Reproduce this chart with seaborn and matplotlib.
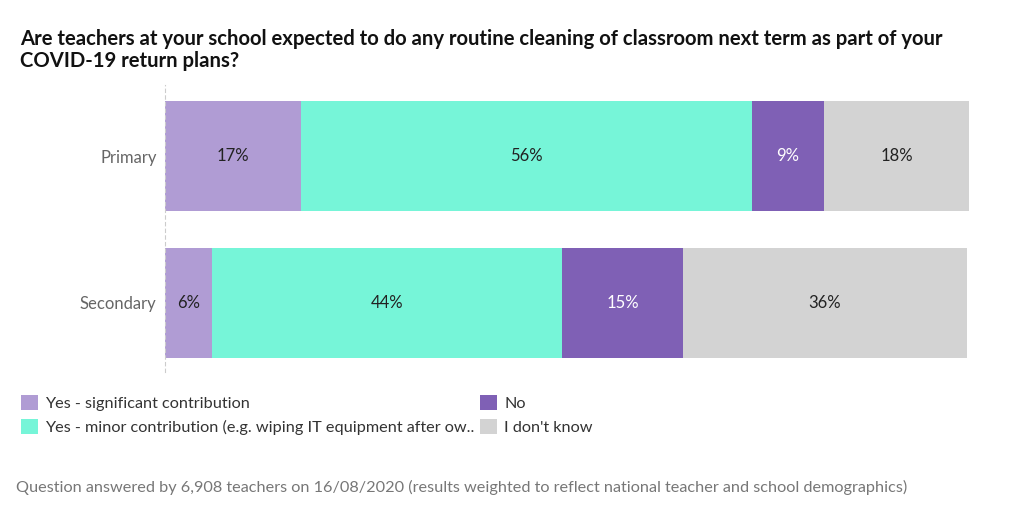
import seaborn as sns
import pandas as pd
import matplotlib.pyplot as plt
from matplotlib.patches import Patch

# survey answers, % of teachers (bar widths)
phases = ["Primary", "Secondary"]
answers = [
    "Yes - significant contribution",
    "Yes - minor contribution (e.g. wiping IT equipment after ow..",
    "No",
    "I don't know",
]
primary = [16.9, 56.1, 9.0, 18.0]
secondary = [5.9, 43.5, 15.0, 35.4]
primary_labels = ["17%", "56%", "9%", "18%"]
secondary_labels = ["6%", "44%", "15%", "36%"]

colors = ["#B09CD4", "#76F5D8", "#7F60B5", "#D3D3D3"]
text_colors = ["#222222", "#222222", "white", "#222222"]

sns.set_style("white")
plt.rcParams["font.family"] = ["Lato", "DejaVu Sans"]

rows = []
for phase, vals in zip(phases, [primary, secondary]):
    total = 0
    for answer, v in zip(answers, vals):
        rows.append({"phase": phase, "answer": answer, "value": v, "left": total})
        total += v
df = pd.DataFrame(rows)
df["end"] = df["left"] + df["value"]

fig = plt.figure(figsize=(10.24, 5.12), dpi=100)
ax = fig.add_axes([165 / 1024, 1 - 372 / 512, (969 - 165) / 1024, 287 / 512])

# stack by drawing cumulative ends from the last answer to the first
for answer, color in reversed(list(zip(answers, colors))):
    sub = df[df["answer"] == answer]
    sns.barplot(
        data=sub, x="end", y="phase", order=phases, orient="h",
        color=color, width=0.75, saturation=1, ax=ax, edgecolor="none",
    )

labels = {"Primary": primary_labels, "Secondary": secondary_labels}
for _, r in df.iterrows():
    i = answers.index(r["answer"])
    ax.text(
        r["left"] + r["value"] / 2, phases.index(r["phase"]), labels[r["phase"]][i],
        ha="center", va="center", fontsize=12, color=text_colors[i],
    )

ax.set_xlim(0, 100)
ax.set_ylim(1 + 69 / 147, -71 / 147)
ax.set_xlabel("")
ax.set_ylabel("")
ax.set_xticks([])
ax.tick_params(axis="y", length=0, labelsize=12, labelcolor="#666666", pad=6)
for s in ["top", "right", "bottom"]:
    ax.spines[s].set_visible(False)
ax.spines["left"].set_color("#cccccc")
ax.spines["left"].set_linestyle((0, (3, 3)))
ax.spines["left"].set_linewidth(0.8)

fig.text(
    20 / 1024, 1 - 29 / 512,
    "Are teachers at your school expected to do any routine cleaning of classroom next term as part of your\nCOVID-19 return plans?",
    ha="left", va="top", fontsize=14.6, fontweight="bold", color="#111111", linespacing=1.1,
)

handles = [Patch(facecolor=c, edgecolor="none") for c in colors]
fig.legend(
    handles, answers, ncol=2, loc="upper left",
    bbox_to_anchor=(6 / 1024, 1 - 380 / 512), frameon=False, fontsize=11.7,
    handlelength=1.05, handleheight=1.05, handletextpad=0.45,
    columnspacing=0.35, labelspacing=0.5, labelcolor="#333333",
)

fig.text(
    16 / 1024, 1 - 487 / 512,
    "Question answered by 6,908 teachers on 16/08/2020 (results weighted to reflect national teacher and school demographics)",
    ha="left", va="center", fontsize=11.7, color="#777777",
)

fig.savefig("out.png", dpi=100)
